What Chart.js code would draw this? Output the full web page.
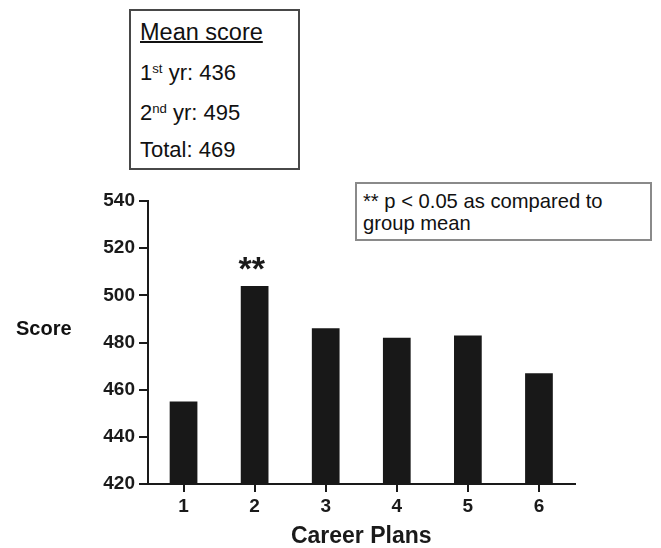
<!DOCTYPE html>
<html>
<head>
<meta charset="utf-8">
<script src="https://cdn.jsdelivr.net/npm/chart.js@4.4.1/dist/chart.umd.min.js"></script>
<style>
  html, body { margin: 0; padding: 0; background: #fff; }
  #wrap { position: relative; width: 661px; height: 548px; overflow: hidden;
          font-family: "Liberation Sans", Arial, Helvetica, sans-serif; color: #111; }
  #chart { position: absolute; left: 0; top: 0; }
  .box { position: absolute; box-sizing: border-box; background: #fff; }
  .line { position: absolute; white-space: nowrap; line-height: 1; }
  sup { font-size: 0.6em; vertical-align: 0.55em; line-height: 0; }
</style>
</head>
<body>
<div id="wrap">
  <canvas id="chart" width="661" height="548"></canvas>

  <div class="box" id="meanBox" style="left:129px; top:9px; width:171px; height:161px; border:2px solid #484848;"></div>
  <div class="line" style="left:140px; top:21px; font-size:23.5px; text-decoration:underline; text-decoration-thickness:1.5px;">Mean score</div>
  <div class="line" style="left:140px; top:61.5px; font-size:22px;">1<sup>st</sup> yr: 436</div>
  <div class="line" style="left:140px; top:101.5px; font-size:22px;">2<sup>nd</sup> yr: 495</div>
  <div class="line" style="left:140px; top:139px; font-size:22px;">Total: 469</div>

  <div class="box" style="left:355px; top:182px; width:297px; height:59px; border:2px solid #8a8a8a;"></div>
  <div class="line" style="left:363px; top:191px; font-size:20.2px;">** p &lt; 0.05 as compared to</div>
  <div class="line" style="left:363px; top:213px; font-size:20.2px;">group mean</div>

  <div class="line" style="left:16px; top:318px; font-size:20px; font-weight:bold;">Score</div>
</div>

<script>
// ---- data ----
const careerPlans = ['1', '2', '3', '4', '5', '6'];
const scores = [455, 504, 486, 482, 483, 467];
const significance = ['', '**', '', '', '', ''];
const yMin = 420;
const yMax = 540;
const yStep = 20;

const ink = '#1a1a1a';

const sigPlugin = {
  id: 'sigMarks',
  afterDatasetsDraw(chart) {
    const ctx = chart.ctx;
    const meta = chart.getDatasetMeta(0);
    ctx.save();
    ctx.fillStyle = ink;
    ctx.font = 'bold 34px "Liberation Sans", Arial, sans-serif';
    ctx.textAlign = 'center';
    ctx.textBaseline = 'alphabetic';
    significance.forEach((s, i) => {
      if (!s) return;
      const bar = meta.data[i];
      ctx.fillText(s, bar.x - 3, bar.y - 6);
    });
    ctx.restore();
  }
};

new Chart(document.getElementById('chart'), {
  type: 'bar',
  data: {
    labels: careerPlans,
    datasets: [{
      data: scores,
      backgroundColor: '#181818',
      borderWidth: 0,
      barPercentage: 0.39,
      categoryPercentage: 1.0
    }]
  },
  options: {
    responsive: false,
    animation: false,
    layout: { padding: { left: 0, right: 86.5, top: 201, bottom: 0 } },
    plugins: { legend: { display: false }, tooltip: { enabled: false } },
    scales: {
      x: {
        grid: { display: true, offset: false, drawOnChartArea: false, drawTicks: true,
                tickLength: 8, color: ink, lineWidth: 2 },
        border: { display: true, color: ink, width: 2 },
        ticks: { color: ink, padding: 3, font: { size: 19, weight: 'bold', family: '"Liberation Sans", Arial, sans-serif' } },
        title: { display: true, text: 'Career Plans', color: ink, padding: { top: 0, bottom: 0 },
                 font: { size: 23, weight: 'bold', lineHeight: 1, family: '"Liberation Sans", Arial, sans-serif' } },
        afterFit(scale) { scale.height = 64; }
      },
      y: {
        min: yMin,
        max: yMax,
        ticks: { stepSize: yStep, color: ink, padding: 4,
                 font: { size: 19, weight: 'bold', family: '"Liberation Sans", Arial, sans-serif' } },
        grid: { display: true, drawOnChartArea: false, drawTicks: true, tickLength: 9, color: ink, lineWidth: 2 },
        border: { display: true, color: ink, width: 2 },
        afterFit(scale) { scale.width = 148; }
      }
    }
  },
  plugins: [sigPlugin]
});
</script>
</body>
</html>
